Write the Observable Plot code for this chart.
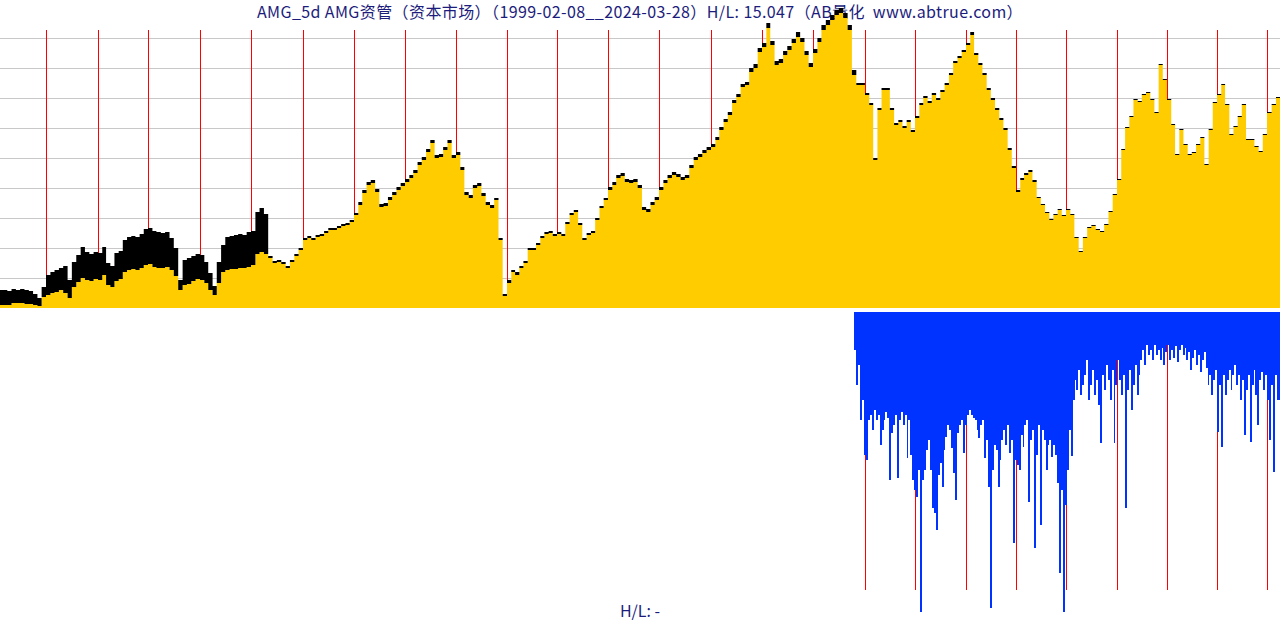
<!DOCTYPE html>
<html><head><meta charset="utf-8">
<script src="https://cdn.jsdelivr.net/npm/d3@7"></script>
<script src="https://cdn.jsdelivr.net/npm/@observablehq/plot@0.6"></script>
<style>
html,body{margin:0;padding:0;background:#fff;}
body{width:1280px;height:620px;overflow:hidden;position:relative;font-family:"Noto Sans CJK SC","DejaVu Sans",sans-serif;}
#title{position:absolute;top:0;left:0;width:1280px;text-align:center;font-size:16px;line-height:22px;letter-spacing:0.4px;color:#1c1c7c;white-space:pre;z-index:0;}
#foot{position:absolute;top:600px;left:0;width:1280px;text-align:center;font-size:16px;line-height:20px;color:#1c1c7c;z-index:0;}
#top{position:absolute;top:0;left:0;z-index:1;}
#bottom{position:absolute;top:310px;left:0;z-index:1;}
svg{display:block;background:transparent !important;}
</style>
</head><body>
<div id="title">AMG_5d AMG资管（资本市场）（1999-02-08__2024-03-28）H/L: 15.047（AB量化  www.abtrue.com）</div>
<div id="top"></div>
<div id="bottom"></div>
<div id="foot">H/L: -</div>
<script>
// ---- data ----
const startDate = "1999-02-08";
const endDate = "2024-03-28";
// monthly closing level (index units), 1999-02 .. 2024-03
const close = [
3,3,3,5,5,5,4,4,3,2,11,
13,15,16,18,15,10,21,26,30,28,27,29,28,
33,23,21,27,29,36,38,39,38,40,43,44,
41,40,40,41,38,32,18,23,24,27,29,28,
25,18,13,25,36,38,39,39,40,40,41,43,
54,56,54,50,45,46,44,40,46,52,58,68,
70,68,71,72,75,78,78,80,82,83,86,93,
103,115,123,125,116,101,102,108,113,118,122,126,
130,135,143,148,156,165,150,151,158,165,150,153,
138,113,110,120,122,112,103,100,108,68,12,25,
36,33,40,45,58,58,63,70,74,75,72,74,
72,84,93,96,83,68,73,75,88,100,108,118,
123,130,132,126,125,126,120,98,96,103,108,118,
125,130,133,131,128,130,140,148,151,155,158,161,
168,178,186,193,205,211,221,223,236,240,256,261,
280,263,243,245,253,258,265,271,266,253,241,255,
266,278,283,288,293,295,290,278,233,223,223,213,
203,148,198,218,218,198,183,186,180,186,176,190,
203,210,205,213,208,216,223,233,245,250,256,263,
273,253,243,233,218,208,198,188,178,158,140,116,
128,133,136,126,110,103,95,88,93,98,92,98,
93,70,56,70,80,82,78,76,83,96,113,128,
158,180,191,208,206,213,215,208,195,243,228,208,
183,153,178,163,153,155,163,170,143,178,205,213,
223,203,173,181,191,203,168,168,161,156,173,195,
203,210
];
// monthly high level (index units)
const high = [
18,18,17,19,18,19,18,17,14,10,21,
33,36,38,40,42,28,46,53,61,56,54,56,55,
61,45,42,55,57,68,71,72,71,74,79,80,
77,76,75,76,70,60,28,48,50,52,54,53,
46,35,22,46,63,71,72,73,74,73,76,77,
96,100,94,52,47,48,46,42,48,54,60,70,
72,70,73,74,77,80,80,82,84,85,88,95,
106,118,126,128,119,104,105,111,116,121,125,129,
133,138,146,151,159,168,153,154,161,168,153,156,
141,116,113,123,125,115,106,103,110,70,14,28,
38,36,42,47,60,60,65,72,76,77,74,76,
74,86,95,98,85,70,75,77,90,102,110,121,
126,133,135,129,128,129,123,101,99,106,111,121,
128,133,136,134,131,133,143,151,154,158,161,164,
171,181,189,196,208,214,224,226,240,244,260,265,
285,267,247,249,257,262,269,276,270,257,245,259,
270,283,288,293,298,300,295,283,238,225,225,215,
205,150,200,220,220,200,185,188,182,188,178,192,
205,212,207,215,210,218,225,235,247,252,258,265,
276,255,245,235,220,210,200,190,180,160,142,118,
130,135,138,128,111,104,96,89,94,99,93,99,
94,71,57,71,81,83,79,77,84,97,114,129,
159,181,192,209,207,214,216,209,196,244,229,209,
184,154,179,164,154,156,164,171,144,179,206,214,
224,204,174,182,192,204,169,169,162,157,174,196,
204,211
];
// lower panel: bi-weekly bar depth, from 2015-10-19
const lowerStart = "2015-10-19";
const depth = [
38,73,53,108,88,143,148,108,103,118,
98,108,103,133,118,108,100,106,168,121,
113,103,166,108,100,113,103,146,108,143,
168,178,185,158,300,168,158,138,128,158,
196,201,218,163,151,175,138,125,113,118,
136,161,188,121,113,108,141,113,103,98,
103,106,108,118,126,113,108,146,128,175,
296,158,133,138,175,148,128,118,133,113,
141,128,231,148,153,158,123,135,113,108,
190,128,118,236,143,113,213,118,128,158,
133,128,145,133,143,171,261,178,300,193,
158,118,144,88,68,78,58,83,73,63,
48,88,73,58,83,68,93,131,63,78,
53,68,88,58,131,73,48,68,83,63,
196,78,58,98,73,53,83,63,48,38,
53,33,43,38,48,33,43,38,48,36,
53,40,33,48,38,46,34,50,38,33,
43,36,48,40,58,46,38,53,43,60,
48,40,56,73,63,83,68,58,120,73,
135,63,83,68,58,78,63,53,73,63,
88,68,123,78,63,130,73,58,83,113,
68,60,78,63,88,128,73,160,63,88,
140
];
const gridTicks = [30,60,90,120,150,180,210,240,270];
const topYears = d3.range(2000, 2025);
const lowYears = d3.range(2016, 2025);

// ---- build tables ----
const t0 = new Date(startDate), t1 = new Date(endDate);
const yearDate = y => new Date(Date.UTC(y, 0, 1));
// trading-week axis: year starts are not evenly spaced in pixels
const xDomain = [t0, ...topYears.map(yearDate), t1];
const xRange = [0,46,98,148,200,251,303,354,405,456,507,557,608,659,711,762,813,865,915,966,1016,1066,1117,1167,1217,1267,1280];

const months = d3.utcMonth.range(new Date("1999-02-01"), new Date("2024-04-01"));
const priceRows = months.map((d, i) => ({date: d, close: close[i], high: high[i]}));
priceRows.push({date: t1, close: close[close.length-1], high: high[high.length-1]});
const ls = new Date(lowerStart);
const lowRows = depth.map((v, i) => ({d1: d3.utcDay.offset(ls, 14*i), d2: d3.utcDay.offset(ls, 14*(i+1)), v}));

const xScale = {type: "utc", domain: xDomain, range: xRange, axis: null};

const topPlot = Plot.plot({
  width: 1280, height: 310, marginTop: 0, marginBottom: 2, marginLeft: 0, marginRight: 0,
  x: xScale,
  y: {domain: [0, 308], axis: null},
  style: {background: "transparent", overflow: "visible"},
  marks: [
    Plot.ruleY(gridTicks, {stroke: "#c8c8c8", strokeWidth: 1}),
    Plot.ruleX(topYears.map(yearDate), {y1: 0, y2: 278, stroke: "#ff0000", strokeWidth: 1}),
    Plot.areaY(priceRows, {x: "date", y1: 0, y2: "close", fill: "#ffcc00", curve: "step-after", clip: true}),
    Plot.areaY(priceRows, {x: "date", y1: "close", y2: "high", fill: "#000000", curve: "step-after", clip: true})
  ]
});
document.getElementById("top").appendChild(topPlot);

const lowPlot = Plot.plot({
  width: 1280, height: 310, marginTop: 2, marginBottom: 0, marginLeft: 0, marginRight: 0,
  x: xScale,
  y: {domain: [0, 308], range: [2, 310], axis: null},
  style: {background: "transparent"},
  marks: [
    Plot.ruleX(lowYears.map(yearDate), {y1: 0, y2: 278, stroke: "#ff0000", strokeWidth: 1}),
    Plot.rect(lowRows, {x1: "d1", x2: "d2", y1: 0, y2: "v", fill: "#0033ff", clip: true, shapeRendering: "crispEdges"})
  ]
});
document.getElementById("bottom").appendChild(lowPlot);
</script>
</body></html>
